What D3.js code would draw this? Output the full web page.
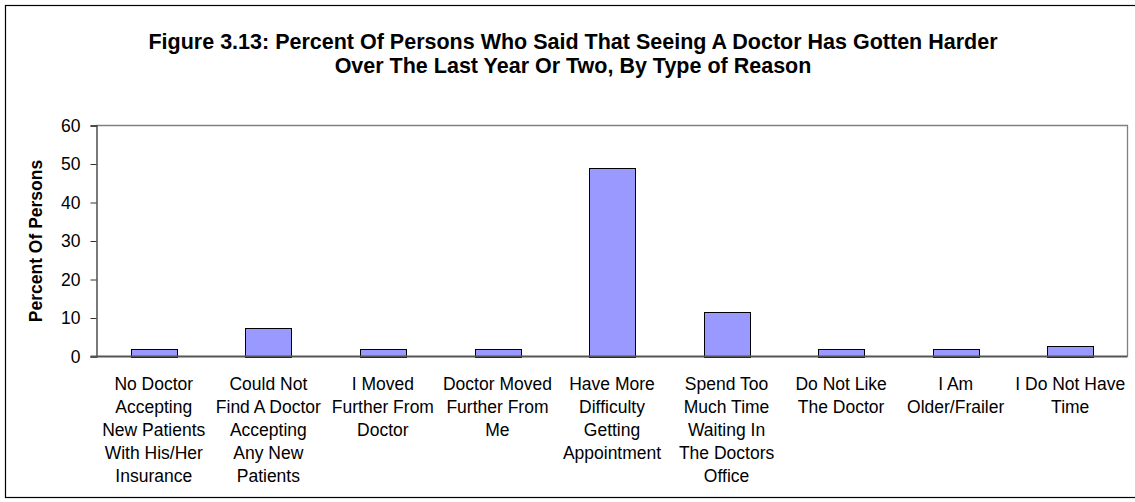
<!DOCTYPE html>
<html>
<head>
<meta charset="utf-8">
<script src="https://cdn.jsdelivr.net/npm/d3@7"></script>
<style>
  html, body { margin: 0; padding: 0; background: #fff; }
  svg { display: block; font-family: "Liberation Sans", Arial, sans-serif; }
</style>
</head>
<body>
<svg id="chart" width="1135" height="502"></svg>
<script>
// Reasons given and share of respondents citing each one
const categories = [
  ["No Doctor", "Accepting", "New Patients", "With His/Her", "Insurance"],
  ["Could Not", "Find A Doctor", "Accepting", "Any New", "Patients"],
  ["I Moved", "Further From", "Doctor"],
  ["Doctor Moved", "Further From", "Me"],
  ["Have More", "Difficulty", "Getting", "Appointment"],
  ["Spend Too", "Much Time", "Waiting In", "The Doctors", "Office"],
  ["Do Not Like", "The Doctor"],
  ["I Am", "Older/Frailer"],
  ["I Do Not Have", "Time"]
];
const values = [2, 7.5, 2, 2, 49, 11.6, 2, 2, 2.6];
const yTicks = [0, 10, 20, 30, 40, 50, 60];
const titleLines = [
  "Figure 3.13: Percent Of Persons Who Said That Seeing A Doctor Has Gotten Harder",
  "Over The Last Year Or Two, By Type of Reason"
];
const yTitle = "Percent Of Persons";

const svg = d3.select("#chart");
const plot = { left: 96.5, right: 1127.5, top: 125.5, bottom: 356.5 };

// Outer chart frame
svg.append("rect")
  .attr("x", 5.5).attr("y", 5.5)
  .attr("width", 1140).attr("height", 492)
  .attr("fill", "#fff").attr("stroke", "#000").attr("stroke-width", 1.2);

// Title
svg.append("g").selectAll("text").data(titleLines).join("text")
  .attr("x", 573).attr("y", (d, i) => 49 + i * 24)
  .attr("text-anchor", "middle")
  .attr("font-size", 21.5).attr("font-weight", "bold")
  .text(d => d);

const x = d3.scaleBand()
  .domain(d3.range(categories.length))
  .range([plot.left, plot.right])
  .paddingInner(0.6).paddingOuter(0.3);

const y = d3.scaleLinear().domain([0, 60]).range([plot.bottom, plot.top]);

// Plot area border (top and right)
svg.append("path")
  .attr("d", `M${plot.left},${plot.top}H${plot.right}V${plot.bottom}`)
  .attr("fill", "none").attr("stroke", "#808080").attr("stroke-width", 1.3);

// Bars
svg.append("g").selectAll("rect").data(values).join("rect")
  .attr("x", (d, i) => Math.round(x(i)) + 0.5)
  .attr("y", d => Math.round(y(d)) + 0.5)
  .attr("width", Math.round(x.bandwidth()))
  .attr("height", d => Math.round(y(0)) - Math.round(y(d)))
  .attr("fill", "#9999FF").attr("stroke", "#000").attr("stroke-width", 1);

// Y axis
const yAxis = svg.append("g")
  .attr("transform", `translate(${plot.left},0)`)
  .call(d3.axisLeft(y).tickValues(yTicks).tickSize(6).tickPadding(10).tickFormat(d3.format("d")));
yAxis.select(".domain").attr("stroke", "#333").attr("stroke-width", 1.3);
yAxis.selectAll(".tick line").attr("stroke", "#333");
yAxis.selectAll("text").attr("font-size", 17.5).attr("fill", "#000")
  .attr("font-family", "Liberation Sans, Arial, sans-serif");

// X axis baseline
svg.append("line")
  .attr("x1", plot.left - 6).attr("x2", plot.right)
  .attr("y1", plot.bottom).attr("y2", plot.bottom)
  .attr("stroke", "#555").attr("stroke-width", 2);

// Category labels, one tspan per line
const labels = svg.append("g").selectAll("text").data(categories).join("text")
  .attr("text-anchor", "middle")
  .attr("font-size", 17.5)
  .attr("transform", (d, i) => `translate(${x(i) + x.bandwidth() / 2},${plot.bottom + 33})`);
labels.selectAll("tspan").data(d => d).join("tspan")
  .attr("x", 0).attr("y", (d, i) => i * 23)
  .text(d => d);

// Y axis title
svg.append("text")
  .attr("transform", `translate(42,${(plot.top + plot.bottom) / 2}) rotate(-90)`)
  .attr("text-anchor", "middle")
  .attr("font-size", 17.5).attr("font-weight", "bold")
  .text(yTitle);
</script>
</body>
</html>
